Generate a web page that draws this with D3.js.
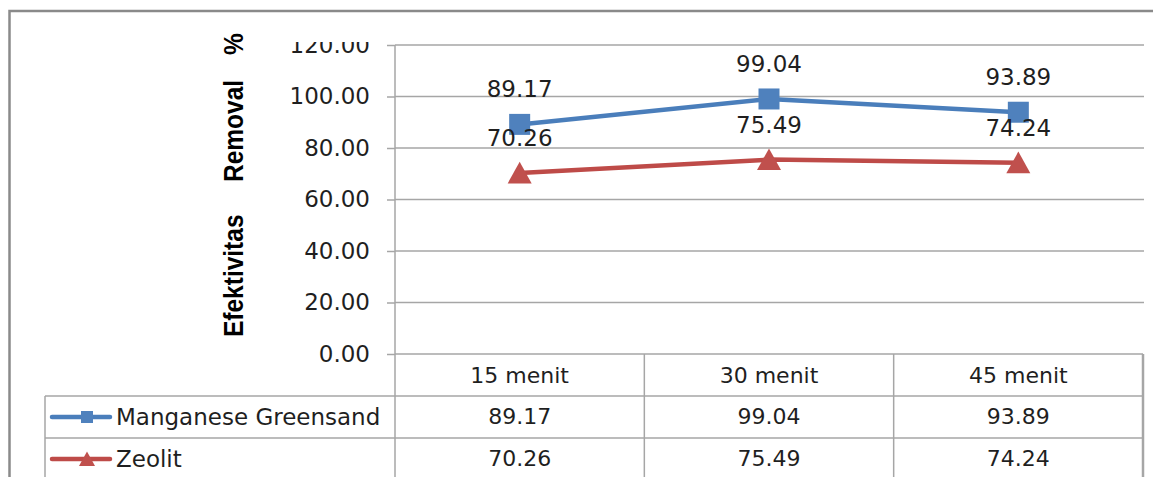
<!DOCTYPE html>
<html>
<head>
<meta charset="utf-8">
<script src="https://cdn.jsdelivr.net/npm/d3@7"></script>
<style>
  html, body { margin: 0; padding: 0; background: #fff; }
  svg { display: block; }
</style>
</head>
<body>
<svg id="chart" width="1153" height="477" style="font-family: 'DejaVu Sans', sans-serif;"></svg>
<script>
// Data
const categories = ["15 menit", "30 menit", "45 menit"];
const seriesNames = ["Manganese Greensand", "Zeolit"];
const manganeseValues = [89.17, 99.04, 93.89];
const zeolitValues = [70.26, 75.49, 74.24];
const yTicks = [0, 20, 40, 60, 80, 100, 120];
const yTitle = ["Efektivitas", "Removal", "%"];

const series = [
  { name: seriesNames[0], values: manganeseValues, line: "#4a7ebb", fill: "#4f81bd", marker: "square" },
  { name: seriesNames[1], values: zeolitValues, line: "#be4b48", fill: "#c0504d", marker: "triangle" }
];

const svg = d3.select("#chart");
const W = 1153, H = 477;
const textColor = "#1f1f1f";

// Layout
const plot = { left: 395, right: 1143, top: 45, bottom: 354 };
const tableLeft = 45;
const rowH = 42;
const gridColor = "#a6a6a6";

const x = d3.scaleBand().domain(categories).range([plot.left, plot.right]).padding(0);
const y = d3.scaleLinear().domain([0, 120]).range([plot.bottom, plot.top]);
const cx = c => x(c) + x.bandwidth() / 2;

// Outer chart frame
svg.append("path")
  .attr("d", `M9.5,${H + 5} L9.5,11 L${W + 5},11`)
  .attr("fill", "none").attr("stroke", "#8a8a8a").attr("stroke-width", 2.5);

// Horizontal gridlines
svg.append("g").selectAll("line").data(yTicks.filter(t => t > 0)).join("line")
  .attr("x1", plot.left).attr("x2", plot.right + 1)
  .attr("y1", d => y(d)).attr("y2", d => y(d))
  .attr("stroke", gridColor).attr("stroke-width", 1.5);

// Y axis; its labels are cut off slightly above the top gridline
svg.append("defs").append("clipPath").attr("id", "axisClip")
  .append("rect").attr("x", -plot.left).attr("y", 42).attr("width", plot.left + 1).attr("height", H);
const yAxis = d3.axisLeft(y).tickValues(yTicks).tickFormat(d3.format(".2f")).tickSize(8).tickPadding(17);
const gy = svg.append("g").attr("transform", `translate(${plot.left},0)`)
  .attr("clip-path", "url(#axisClip)").call(yAxis);
gy.select(".domain").remove();
gy.selectAll(".tick line").attr("stroke", gridColor).attr("stroke-width", 1.5);
gy.selectAll(".tick text")
  .attr("font-family", "DejaVu Sans, sans-serif").attr("font-size", 23)
  .attr("fill", textColor);
svg.append("line")
  .attr("x1", plot.left).attr("x2", plot.left)
  .attr("y1", plot.top).attr("y2", H + 5)
  .attr("stroke", gridColor).attr("stroke-width", 1.5);

// Y axis title (bold, compressed)
const titleSx = 0.875;
const titleG = svg.append("g").attr("transform", `translate(243,337) rotate(-90) scale(${titleSx},1)`);
const titleOffsets = [0, 155, 282];
const title = titleG.append("text")
  .attr("font-family", "'Liberation Sans', Arial, sans-serif")
  .attr("font-weight", "bold").attr("font-size", 28).attr("fill", "#000");
title.selectAll("tspan").data(yTitle).join("tspan")
  .attr("x", (d, i) => titleOffsets[i] / titleSx).attr("y", 0)
  .text(d => d);

// Data table grid
const tbl = svg.append("g").attr("stroke", gridColor).attr("stroke-width", 1.5);
tbl.append("line").attr("x1", plot.left).attr("x2", plot.right).attr("y1", plot.bottom).attr("y2", plot.bottom);
[1, 2].forEach(r => {
  tbl.append("line").attr("x1", tableLeft).attr("x2", plot.right)
    .attr("y1", plot.bottom + r * rowH).attr("y2", plot.bottom + r * rowH);
});
tbl.append("line").attr("x1", tableLeft).attr("x2", tableLeft).attr("y1", plot.bottom + rowH).attr("y2", H + 5);
categories.forEach(c => {
  const xr = x(c) + x.bandwidth();
  tbl.append("line").attr("x1", xr).attr("x2", xr).attr("y1", plot.bottom).attr("y2", H + 5)
    .attr("stroke-width", xr >= plot.right - 1 ? 2.5 : 1.5);
});

// Category header row
svg.append("g").selectAll("text").data(categories).join("text")
  .attr("x", d => cx(d)).attr("y", plot.bottom + 29)
  .attr("text-anchor", "middle").attr("font-size", 22).attr("fill", textColor)
  .text(d => d);

// Value rows
series.forEach((s, i) => {
  svg.append("g").selectAll("text").data(s.values).join("text")
    .attr("x", (d, j) => cx(categories[j])).attr("y", plot.bottom + rowH * (i + 1) + 28)
    .attr("text-anchor", "middle").attr("font-size", 22).attr("fill", textColor)
    .text(d => d3.format(".2f")(d));
});

// Marker shapes
function drawMarker(g, type, size, color) {
  if (type === "square") {
    g.append("rect").attr("x", -size / 2).attr("y", -size / 2)
      .attr("width", size).attr("height", size).attr("fill", color);
  } else {
    const h = size * 0.9;
    g.append("path")
      .attr("d", `M0,${-h * 0.52} L${size / 2},${h * 0.48} L${-size / 2},${h * 0.48} Z`)
      .attr("fill", color);
  }
}

// Legend keys and names in the table
series.forEach((s, i) => {
  const rowMid = plot.bottom + rowH * (i + 1) + rowH / 2;
  const g = svg.append("g");
  g.append("line").attr("x1", 52).attr("x2", 110).attr("y1", rowMid).attr("y2", rowMid)
    .attr("stroke", s.line).attr("stroke-width", 4.5).attr("stroke-linecap", "round");
  const m = g.append("g").attr("transform", `translate(87,${rowMid})`);
  drawMarker(m, s.marker, s.marker === "square" ? 12 : 16, s.fill);
  g.append("text").attr("x", 116).attr("y", rowMid + 8)
    .attr("font-size", 23).attr("fill", textColor).text(s.name);
});

// Series lines, markers and value labels
const line = d3.line().x((d, j) => cx(categories[j])).y(d => y(d));
series.forEach(s => {
  svg.append("path").datum(s.values).attr("d", line)
    .attr("fill", "none").attr("stroke", s.line).attr("stroke-width", 4.5)
    .attr("stroke-linejoin", "round");
  s.values.forEach((v, j) => {
    const m = svg.append("g").attr("transform", `translate(${cx(categories[j])},${y(v)})`);
    drawMarker(m, s.marker, s.marker === "square" ? 21 : 24, s.fill);
  });
});
series.forEach(s => {
  svg.append("g").selectAll("text").data(s.values).join("text")
    .attr("x", (d, j) => cx(categories[j])).attr("y", d => y(d) - 27)
    .attr("text-anchor", "middle").attr("font-size", 23).attr("fill", textColor)
    .text(d => d3.format(".2f")(d));
});
</script>
</body>
</html>
